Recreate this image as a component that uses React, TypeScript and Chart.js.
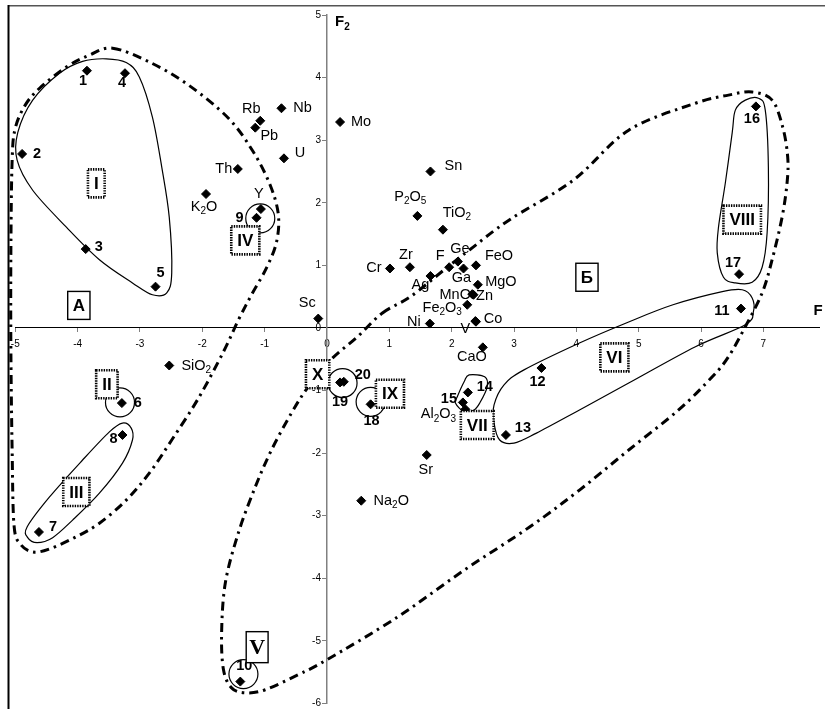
import React, { useEffect, useRef } from "react";
import { Chart, registerables } from "chart.js";

Chart.register(...registerables);

// ---------- data ----------
const X_TICKS = [-5, -4, -3, -2, -1, 0, 1, 2, 3, 4, 5, 6, 7];
const Y_TICKS = [-6, -5, -4, -3, -2, -1, 0, 1, 2, 3, 4, 5];

const SAMPLE_NAMES = ["1", "2", "3", "4", "5", "6", "7", "8", "9", "10", "11", "12", "13", "14", "15", "16", "17", "18", "19", "20"];
const SAMPLE_F1 = [-3.85, -4.89, -3.87, -3.24, -2.75, -3.29, -4.62, -3.28, -1.13, -1.39, 6.64, 3.44, 2.87, 2.26, 2.18, 6.88, 6.61, 0.70, 0.21, 0.27];
const SAMPLE_F2 = [4.11, 2.78, 1.26, 4.07, 0.66, -1.20, -3.26, -1.71, 1.76, -5.65, 0.31, -0.64, -1.71, -1.03, -1.19, 3.54, 0.86, -1.22, -0.87, -0.86];
const SAMPLE_LABEL_OFFSET = [[-4, 10], [15, 0], [13, -2], [-3, 10], [5, -14], [16, 0], [14, -5], [-9, 4], [-17, 0], [4, -16], [-19, 2], [-4, 14], [17, -7], [17, -5], [-14, -3], [-4, 13], [-6, -11], [1, 17], [0, 20], [19, -7]];

const ELEMENT_NAMES = ["Rb", "Pb", "Nb", "U", "Th", "K2O", "Y", "Mo", "Sc", "Cr", "Zr", "Sn", "P2O5", "TiO2", "F", "Ge", "Ga", "FeO", "Ag", "MgO", "MnO", "Zn", "Fe2O3", "Co", "V", "Ni", "CaO", "Al2O3", "Sr", "SiO2", "Na2O"];
const ELEMENT_F1 = [-1.07, -1.15, -0.73, -0.69, -1.43, -1.94, -1.06, 0.21, -0.14, 1.01, 1.33, 1.66, 1.45, 1.86, 1.96, 2.10, 2.19, 2.39, 1.66, 2.42, 2.33, 2.35, 2.25, 2.39, 2.38, 1.65, 2.50, 2.22, 1.60, -2.53, 0.55];
const ELEMENT_F2 = [3.31, 3.20, 3.51, 2.71, 2.54, 2.14, 1.90, 3.29, 0.15, 0.95, 0.97, 2.50, 1.79, 1.57, 0.97, 1.06, 0.95, 1.00, 0.83, 0.69, 0.54, 0.53, 0.37, 0.10, 0.11, 0.07, -0.31, -1.30, -2.03, -0.60, -2.76];
const ELEMENT_LABEL_OFFSET = [[-9, -12], [14, 8], [21, 0], [16, -5], [-14, 0], [-2, 13], [-2, -15], [21, 0], [-11, -16], [-16, 0], [-4, -12], [23, -5], [-7, -19], [14, -17], [-9, -11], [2, -13], [-2, 10], [23, -9], [-10, 9], [23, -3], [-17, 1], [11, 1], [-25, 3], [17, -3], [-10, 8], [-16, -2], [-11, 10], [-27, 5], [-1, 15], [27, 0], [30, 0]];

// dash-dot field outlines (F1, F2)
const FIELD_A = [[-3.44, 4.47], [-2.85, 4.25], [-2.22, 3.88], [-1.58, 3.35], [-1.18, 2.81], [-0.91, 2.28], [-0.78, 1.81], [-0.81, 1.37], [-0.97, 0.96], [-1.21, 0.53], [-1.42, 0.13], [-1.66, -0.38], [-2.06, -1.12], [-2.49, -1.79], [-2.85, -2.32], [-3.22, -2.75], [-3.65, -3.12], [-4.05, -3.35], [-4.45, -3.53], [-4.72, -3.58], [-4.92, -3.45], [-5.02, -3.15], [-5.05, -1.95], [-5.07, -0.35], [-5.07, 1.25], [-5.05, 2.68], [-5.0, 3.19], [-4.84, 3.56], [-4.61, 3.83], [-4.18, 4.17], [-3.81, 4.36]];
const FIELD_B = [[0.89, 0.24], [1.34, 0.50], [1.88, 0.93], [2.29, 1.25], [2.93, 1.73], [3.95, 2.36], [4.84, 3.16], [5.91, 3.59], [6.44, 3.72], [6.82, 3.77], [7.14, 3.64], [7.31, 3.21], [7.39, 2.73], [7.38, 2.32], [7.30, 1.77], [7.14, 1.09], [6.98, 0.56], [6.71, 0.02], [6.44, -0.46], [6.18, -0.78], [5.64, -1.31], [4.84, -1.95], [4.05, -2.59], [3.25, -3.18], [2.20, -3.87], [1.13, -4.62], [0.0, -5.30], [-0.46, -5.54], [-0.99, -5.78], [-1.31, -5.83], [-1.53, -5.75], [-1.66, -5.46], [-1.69, -4.87], [-1.63, -4.07], [-1.42, -3.27], [-1.15, -2.54], [-0.89, -1.95], [-0.57, -1.36], [-0.30, -0.94], [0.06, -0.51], [0.49, -0.14]];

// solid group outlines
const GROUP_I = [[-3.54, 4.30], [-3.22, 4.24], [-3.01, 4.01], [-2.80, 3.37], [-2.65, 2.57], [-2.53, 1.77], [-2.49, 0.88], [-2.57, 0.56], [-2.80, 0.53], [-3.12, 0.72], [-3.65, 1.09], [-4.18, 1.61], [-4.72, 2.20], [-4.97, 2.68], [-4.96, 3.12], [-4.72, 3.64], [-4.29, 4.07], [-3.92, 4.26]];
const GROUP_III = [[-4.81, -3.18], [-4.45, -2.70], [-3.92, -2.11], [-3.49, -1.66], [-3.28, -1.52], [-3.14, -1.60], [-3.12, -1.79], [-3.28, -2.16], [-3.65, -2.64], [-4.08, -3.07], [-4.40, -3.35], [-4.65, -3.43], [-4.80, -3.35]];
const GROUP_VI = [[3.16, -0.67], [4.05, -0.24], [4.80, 0.08], [5.55, 0.37], [6.34, 0.58], [6.66, 0.61], [6.82, 0.48], [6.84, 0.26], [6.71, 0.05], [5.91, -0.30], [4.84, -0.88], [4.05, -1.31], [3.36, -1.68], [3.00, -1.84], [2.77, -1.79], [2.68, -1.52], [2.68, -1.23], [2.84, -0.91]];
const GROUP_VII = [[2.28, -0.75], [2.53, -0.78], [2.57, -0.94], [2.45, -1.20], [2.36, -1.31], [2.20, -1.34], [2.06, -1.20], [2.09, -1.10], [2.20, -0.86]];
const GROUP_VIII = [[6.71, 3.64], [6.92, 3.67], [7.03, 3.48], [7.08, 2.57], [7.06, 1.52], [6.98, 0.97], [6.82, 0.73], [6.55, 0.72], [6.36, 0.81], [6.26, 1.20], [6.28, 1.61], [6.39, 2.32], [6.50, 3.12], [6.55, 3.48]];

// circled single groups (centres)
const CIRCLE_CENTRES = [[-1.07, 1.75], [-3.32, -1.19], [0.25, -0.88], [0.70, -1.18], [-1.34, -5.53]];

// group tags (dotted boxes)
const GROUP_TAGS = ["I", "II", "III", "IV", "VI", "VII", "VIII", "IX", "X"];
const GROUP_TAG_F1 = [-3.70, -3.53, -4.02, -1.31, 4.61, 2.41, 6.66, 1.01, -0.15];
const GROUP_TAG_F2 = [2.31, -0.90, -2.62, 1.40, -0.47, -1.55, 1.73, -1.05, -0.74];

// field tags (solid boxes)
const FIELD_TAGS = ["А", "Б", "V"];
const FIELD_TAG_F1 = [-3.98, 4.17, -1.12];
const FIELD_TAG_F2 = [0.36, 0.81, -5.10];

const SANS = "'Liberation Sans', Arial, sans-serif";
const SERIF = "'Liberation Serif', 'Times New Roman', serif";

type Pt = [number, number];

function smoothClosed(ctx: CanvasRenderingContext2D, pts: Pt[]) {
  const n = pts.length;
  ctx.beginPath();
  ctx.moveTo(pts[0][0], pts[0][1]);
  for (let i = 0; i < n; i++) {
    const p0 = pts[(i - 1 + n) % n];
    const p1 = pts[i];
    const p2 = pts[(i + 1) % n];
    const p3 = pts[(i + 2) % n];
    const c1x = p1[0] + (p2[0] - p0[0]) / 6;
    const c1y = p1[1] + (p2[1] - p0[1]) / 6;
    const c2x = p2[0] - (p3[0] - p1[0]) / 6;
    const c2y = p2[1] - (p3[1] - p1[1]) / 6;
    ctx.bezierCurveTo(c1x, c1y, c2x, c2y, p2[0], p2[1]);
  }
  ctx.closePath();
}

function splitFormula(text: string): [string, boolean][] {
  const parts: [string, boolean][] = [];
  for (let i = 0; i < text.length; i++) {
    const ch = text[i];
    const sub = /[0-9]/.test(ch) && i > 0 && /[A-Za-z]/.test(text[i - 1]);
    if (parts.length && parts[parts.length - 1][1] === sub) parts[parts.length - 1][0] += ch;
    else parts.push([ch, sub]);
  }
  return parts;
}

function drawFormula(ctx: CanvasRenderingContext2D, text: string, cx: number, cy: number, size: number, bold: boolean) {
  const w = bold ? "bold " : "";
  const main = `${w}${size}px ${SANS}`;
  const small = `${w}${Math.round(size * 0.68)}px ${SANS}`;
  const parts = splitFormula(text);
  let total = 0;
  const widths = parts.map(([s, sub]) => {
    ctx.font = sub ? small : main;
    const m = ctx.measureText(s).width;
    total += m;
    return m;
  });
  let x = cx - total / 2;
  ctx.textAlign = "left";
  ctx.textBaseline = "middle";
  parts.forEach(([s, sub], i) => {
    ctx.font = sub ? small : main;
    ctx.fillText(s, x, sub ? cy + size * 0.32 : cy);
    x += widths[i];
  });
}

const overlayPlugin = {
  id: "overlay",
  beforeDatasetsDraw(chart: any) {
    const { ctx } = chart;
    const xs = chart.scales.x;
    const ys = chart.scales.y;
    const toPx = (p: number[]): Pt => [xs.getPixelForValue(p[0]), ys.getPixelForValue(p[1])];
    ctx.save();
    ctx.strokeStyle = "#000";
    ctx.lineWidth = 3;
    ctx.lineCap = "butt";
    ctx.setLineDash([9, 5, 2.5, 5]);
    [FIELD_A, FIELD_B].forEach((pts) => {
      smoothClosed(ctx, pts.map(toPx));
      ctx.stroke();
    });
    ctx.setLineDash([]);
    ctx.lineWidth = 1.2;
    [GROUP_I, GROUP_III, GROUP_VI, GROUP_VII, GROUP_VIII].forEach((pts) => {
      smoothClosed(ctx, pts.map(toPx));
      ctx.stroke();
    });
    CIRCLE_CENTRES.forEach((c) => {
      const [px, py] = toPx(c);
      ctx.beginPath();
      ctx.arc(px, py, 14.5, 0, Math.PI * 2);
      ctx.stroke();
    });
    ctx.restore();
  },
  afterDatasetsDraw(chart: any) {
    const { ctx } = chart;
    const xs = chart.scales.x;
    const ys = chart.scales.y;
    ctx.save();
    ctx.fillStyle = "#000";

    // point labels
    const sMeta = chart.getDatasetMeta(0);
    SAMPLE_NAMES.forEach((name, i) => {
      const el = sMeta.data[i];
      const [dx, dy] = SAMPLE_LABEL_OFFSET[i];
      drawFormula(ctx, name, el.x + dx, el.y + dy, 14.5, true);
    });
    const eMeta = chart.getDatasetMeta(1);
    ELEMENT_NAMES.forEach((name, i) => {
      const el = eMeta.data[i];
      const [dx, dy] = ELEMENT_LABEL_OFFSET[i];
      drawFormula(ctx, name, el.x + dx, el.y + dy, 14.5, false);
    });

    // group tags (dotted boxes)
    GROUP_TAGS.forEach((tag, i) => {
      const cx = xs.getPixelForValue(GROUP_TAG_F1[i]);
      const cy = ys.getPixelForValue(GROUP_TAG_F2[i]);
      ctx.font = `bold 17px ${SANS}`;
      const tw = ctx.measureText(tag).width;
      const w = tw + 12;
      const h = 28;
      ctx.fillStyle = "#fff";
      ctx.fillRect(cx - w / 2, cy - h / 2, w, h);
      ctx.strokeStyle = "#000";
      ctx.lineWidth = 2.6;
      ctx.setLineDash([1.4, 1.1]);
      ctx.strokeRect(cx - w / 2, cy - h / 2, w, h);
      ctx.setLineDash([]);
      ctx.fillStyle = "#000";
      ctx.textAlign = "center";
      ctx.textBaseline = "middle";
      ctx.fillText(tag, cx, cy + 1);
    });

    // field tags (solid boxes)
    FIELD_TAGS.forEach((tag, i) => {
      const cx = xs.getPixelForValue(FIELD_TAG_F1[i]);
      const cy = ys.getPixelForValue(FIELD_TAG_F2[i]);
      const serif = tag === "V";
      ctx.font = serif ? `bold 22px ${SERIF}` : `bold 17px ${SANS}`;
      const tw = ctx.measureText(tag).width;
      const w = tw + (serif ? 6 : 10);
      const h = serif ? 31 : 28;
      ctx.fillStyle = "#fff";
      ctx.fillRect(cx - w / 2, cy - h / 2, w, h);
      ctx.strokeStyle = "#000";
      ctx.lineWidth = 1.4;
      ctx.strokeRect(cx - w / 2, cy - h / 2, w, h);
      ctx.fillStyle = "#000";
      ctx.textAlign = "center";
      ctx.textBaseline = "middle";
      ctx.fillText(tag, cx, cy + 1);
    });

    // y tick labels
    const axisX = xs.getPixelForValue(0);
    ctx.font = `10px ${SANS}`;
    ctx.textAlign = "right";
    ctx.textBaseline = "middle";
    ctx.fillStyle = "#000";
    ys.ticks.forEach((t: any) => {
      ctx.fillText(String(t.value), axisX - 6, ys.getPixelForValue(t.value));
    });

    // axis titles
    drawFormula(ctx, "F2", axisX + 15.5, ys.getPixelForValue(5) + 7, 15, true);
    ctx.font = `bold 15px ${SANS}`;
    ctx.textAlign = "center";
    ctx.textBaseline = "middle";
    ctx.fillText("F", 818, ys.getPixelForValue(0) - 17);

    // outer frame
    ctx.strokeStyle = "#555";
    ctx.lineWidth = 1.6;
    ctx.beginPath();
    ctx.moveTo(8.5, 5.8);
    ctx.lineTo(825, 5.8);
    ctx.stroke();
    ctx.strokeStyle = "#000";
    ctx.lineWidth = 2;
    ctx.beginPath();
    ctx.moveTo(8.5, 5);
    ctx.lineTo(8.5, 709);
    ctx.stroke();
    ctx.restore();
  },
};

export default function App() {
  const canvasRef = useRef<HTMLCanvasElement | null>(null);

  useEffect(() => {
    const canvas = canvasRef.current;
    if (!canvas) return;
    const pointStyle = {
      pointStyle: "rectRot" as const,
      radius: 4.5,
      backgroundColor: "#000",
      borderColor: "#000",
      borderWidth: 1,
      showLine: false,
    };
    const chart = new Chart(canvas, {
      type: "scatter",
      data: {
        datasets: [
          { label: "samples", data: SAMPLE_F1.map((v, i) => ({ x: v, y: SAMPLE_F2[i] })), ...pointStyle },
          { label: "elements", data: ELEMENT_F1.map((v, i) => ({ x: v, y: ELEMENT_F2[i] })), ...pointStyle },
        ],
      },
      options: {
        responsive: false,
        animation: false,
        devicePixelRatio: 1,
        events: [],
        layout: { padding: { left: 15.25, top: 15, right: 0, bottom: 5.4 } },
        plugins: { legend: { display: false }, tooltip: { enabled: false } },
        scales: {
          x: {
            type: "linear",
            min: -5,
            max: 7.9,
            position: { y: 0 } as any,
            afterBuildTicks: (s: any) => {
              s.ticks = X_TICKS.map((v) => ({ value: v }));
            },
            grid: { drawOnChartArea: false, drawTicks: true, tickLength: 4, color: "#808080" },
            border: { display: true, color: "#000", width: 1 },
            ticks: { font: { family: SANS, size: 10 }, color: "#000", padding: 6, autoSkip: false, maxRotation: 0 },
          },
          y: {
            type: "linear",
            min: -6,
            max: 5,
            position: { x: 0 } as any,
            afterBuildTicks: (s: any) => {
              s.ticks = Y_TICKS.map((v) => ({ value: v }));
            },
            grid: { drawOnChartArea: false, drawTicks: true, tickLength: 4, color: "#808080" },
            border: { display: true, color: "#808080", width: 1.5 },
            ticks: { display: false },
          },
        },
      },
      plugins: [overlayPlugin],
    });
    return () => chart.destroy();
  }, []);

  return (
    <div style={{ position: "fixed", left: 0, top: 0, width: 825, height: 709, background: "#fff", overflow: "hidden" }}>
      <canvas ref={canvasRef} width={825} height={709} style={{ display: "block" }} />
    </div>
  );
}
